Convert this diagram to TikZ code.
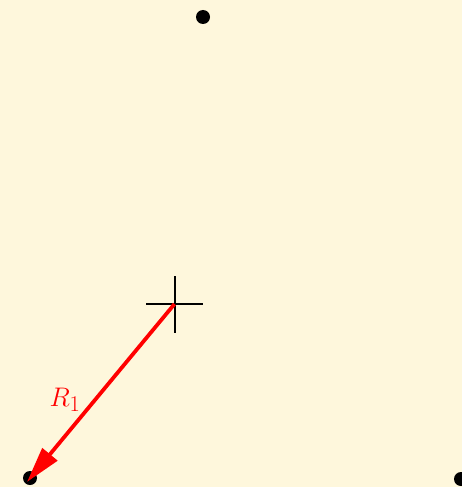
\documentclass[tikz,border=0pt]{standalone}
\usetikzlibrary{arrows.meta}
\definecolor{bgcream}{RGB}{254,247,220}
\tikzset{
  dotpt/.style={fill=black, circle, inner sep=0pt, minimum size=14pt},
  radius arrow/.style={red, line width=3.8pt, -{Triangle[length=36pt,width=19pt]}},
  crossline/.style={black, line width=2pt},
}
\begin{document}
\begin{tikzpicture}[x=1pt,y=-1pt]
\fill[bgcream] (0,0) rectangle (462,487);
\useasboundingbox (0,0) rectangle (462,487);
\node[dotpt] (top) at (203,17) {};
\node[dotpt] (bl) at (30,478) {};
\node[dotpt] (br) at (461,479) {};
\coordinate (c) at (174.5,304);
\coordinate (cl) at (146,304);
\coordinate (cr) at (203,304);
\coordinate (ct) at (174.5,276);
\coordinate (cb) at (174.5,333);
\coordinate (tip) at (27,482);
\draw[crossline] (cl) -- (cr);
\draw[crossline] (ct) -- (cb);
\draw[radius arrow] (c) -- (tip);
\node[red, font=\Huge, scale=1.08, transform shape] (lab) at (65,400) {$R_1$};
\end{tikzpicture}
\end{document}
